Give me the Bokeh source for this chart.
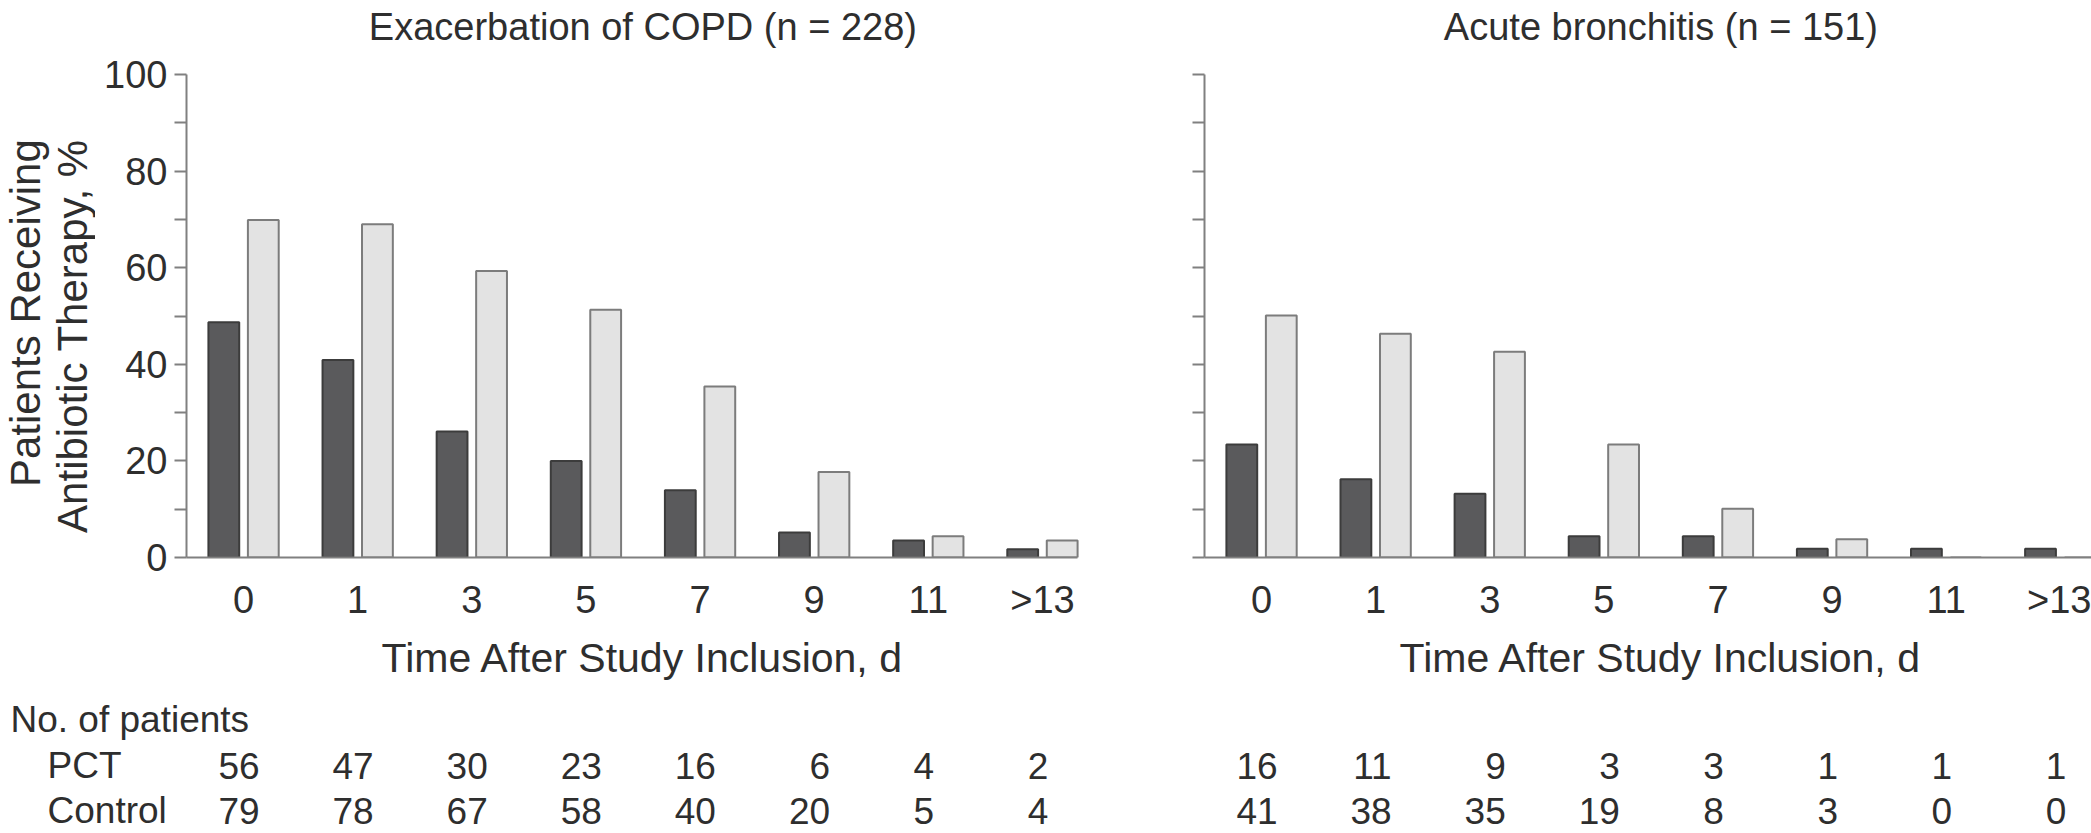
from math import pi
from bokeh.plotting import figure
from bokeh.models import FixedTicker, ColumnDataSource, Range1d
from bokeh.layouts import row, column
from bokeh.transform import dodge
from bokeh.embed import file_html
from bokeh.resources import INLINE
from bokeh.core.properties import value

# ---------------- data ----------------
days = ["0", "1", "3", "5", "7", "9", "11", ">13"]
copd_pct = [48.7, 40.9, 26.1, 20.0, 13.9, 5.2, 3.5, 1.7]
copd_ctrl = [69.9, 69.0, 59.3, 51.3, 35.4, 17.7, 4.4, 3.5]
bronch_pct = [23.4, 16.2, 13.2, 4.4, 4.4, 1.8, 1.8, 1.8]
bronch_ctrl = [50.1, 46.3, 42.6, 23.4, 10.1, 3.8, 0.0, 0.0]
copd_n_pct = [56, 47, 30, 23, 16, 6, 4, 2]
copd_n_ctrl = [79, 78, 67, 58, 40, 20, 5, 4]
bronch_n_pct = [16, 11, 9, 3, 3, 1, 1, 1]
bronch_n_ctrl = [41, 38, 35, 19, 8, 3, 0, 0]
titles = ["Exacerbation of COPD (n = 228)", "Acute bronchitis (n = 151)"]
x_title = "Time After Study Inclusion, d"
y_title = ["Patients Receiving", "Antibiotic Therapy, %"]
table_head = "No. of patients"
row_names = ["PCT", "Control"]

# ---------------- style / layout constants ----------------
FONT = "Liberation Sans"
TXT = "#2e2e2e"
AX = "#808080"
DARK, DARK_LINE = "#5a5a5c", "#3c3c3c"
LIGHT, LIGHT_LINE = "#e3e3e3", "#7c7c7c"

PX = 114.1                   # pixels per category
W_L, W_R = 1107, 984         # column widths (left / right panel)
YLAB_W = 95
H_TOP, H_MID, H_BOT = 50, 575, 205
FRAME_L = [186, 1204]        # frame left edge (page px)
MID_TOP = H_TOP
FRAME_TOP, FRAME_BOT = 74, 557
BOT0 = H_TOP + H_MID + H_BOT  # page y of the bottom strip's lower edge


def strip(width, height, x0):
    """A frameless figure whose x range is in category units."""
    start = -(x0 / PX) - 0.5
    f = figure(width=width, height=height, x_range=Range1d(start, start + width / PX),
               y_range=Range1d(0, height), x_axis_type=None, y_axis_type=None,
               output_backend="svg", toolbar_location=None,
               min_border_left=0, min_border_right=0, min_border_top=0, min_border_bottom=0)
    f.outline_line_color = None
    f.background_fill_color = "white"
    f.border_fill_color = "white"
    return f


def chart(width, bl, br, xend, pct, ctrl, labels):
    p = figure(width=width, height=H_MID, x_range=Range1d(-0.5, xend), y_range=Range1d(0, 100),
               output_backend="svg", toolbar_location=None,
               min_border_left=bl, min_border_right=br,
               min_border_top=FRAME_TOP - MID_TOP, min_border_bottom=MID_TOP + H_MID - FRAME_BOT)
    p.outline_line_color = None
    p.grid.visible = False
    p.background_fill_color = "white"
    p.border_fill_color = "white"

    src = ColumnDataSource(dict(x=list(range(len(days))), pct=pct, ctrl=ctrl))
    p.vbar(x=dodge("x", -0.173, range=p.x_range), top="pct", bottom=0, width=0.27, source=src,
           fill_color=DARK, line_color=DARK_LINE, line_width=2)
    p.vbar(x=dodge("x", 0.173, range=p.x_range), top="ctrl", bottom=0, width=0.27, source=src,
           fill_color=LIGHT, line_color=LIGHT_LINE, line_width=2)

    xa = p.xaxis[0]
    xa.ticker = FixedTicker(ticks=list(range(len(days))), minor_ticks=[])
    xa.major_label_overrides = {i: d for i, d in enumerate(days)}
    xa.major_tick_out = 0
    xa.major_tick_in = 0
    xa.minor_tick_out = 0
    xa.minor_tick_in = 0
    xa.axis_line_color = AX
    xa.axis_line_width = 2
    xa.major_label_text_font = FONT
    xa.major_label_text_font_size = "38px"
    xa.major_label_text_color = TXT
    xa.major_label_standoff = 21
    xa.bounds = (-0.5, 7.31)

    ya = p.yaxis[0]
    if labels:
        ya.ticker = FixedTicker(ticks=[0, 20, 40, 60, 80, 100], minor_ticks=[10, 30, 50, 70, 90])
    else:
        ya.ticker = FixedTicker(ticks=[], minor_ticks=[0, 10, 20, 30, 40, 50, 60, 70, 80, 90, 100])
    ya.major_tick_out = 12
    ya.major_tick_in = 0
    ya.minor_tick_out = 12
    ya.minor_tick_in = 0
    ya.major_tick_line_color = AX
    ya.minor_tick_line_color = AX
    ya.major_tick_line_width = 2
    ya.minor_tick_line_width = 2
    ya.axis_line_color = AX
    ya.axis_line_width = 2
    ya.major_label_text_font = FONT
    ya.major_label_text_font_size = "38px"
    ya.major_label_text_color = TXT
    ya.major_label_standoff = 7
    return p


def txt(f, x, y, t, size, align="left", angle=0.0, off=None):
    data = dict(x=x, y=y, t=t)
    kw = {}
    if off is not None:
        data["off"] = off
        kw["x_offset"] = "off"
    f.text(x="x", y="y", text="t", source=ColumnDataSource(data), text_align=align,
           text_baseline="alphabetic", angle=angle, text_font=value(FONT),
           text_font_size=value(size), text_color=TXT, **kw)


# ---- title strips ----
top_l = strip(W_L, H_TOP, FRAME_L[0])
top_r = strip(W_R, H_TOP, FRAME_L[1] - W_L)
for f, t in [(top_l, titles[0]), (top_r, titles[1])]:
    txt(f, [3.5], [H_TOP - 26], [t], "38px", align="center")

# ---- y title strip ----
ylab = figure(width=YLAB_W, height=H_MID, x_range=Range1d(0, YLAB_W), y_range=Range1d(0, H_MID),
              x_axis_type=None, y_axis_type=None, output_backend="svg", toolbar_location=None,
              min_border_left=0, min_border_right=0, min_border_top=0, min_border_bottom=0)
ylab.outline_line_color = None
txt(ylab, [24.5, 71.5], [MID_TOP + H_MID - 127] * 2, y_title, "42px", align="right", angle=pi / 2)

# ---- charts ----
p1 = chart(W_L - YLAB_W, FRAME_L[0] - YLAB_W, 8, 7.5, copd_pct, copd_ctrl, True)
p2 = chart(W_R, FRAME_L[1] - W_L, 0, -0.5 + (W_R - (FRAME_L[1] - W_L)) / PX,
           bronch_pct, bronch_ctrl, False)

# ---- x titles and patient-count tables ----
bot_l = strip(W_L, H_BOT, FRAME_L[0])
bot_r = strip(W_R, H_BOT, FRAME_L[1] - W_L)
for f, n_pct, n_ctrl in [(bot_l, copd_n_pct, copd_n_ctrl), (bot_r, bronch_n_pct, bronch_n_ctrl)]:
    txt(f, [3.5], [BOT0 - 657], [x_title], "41px", align="center")
    maxd = [max(len(str(a)), len(str(b))) for a, b in zip(n_pct, n_ctrl)]
    offs = [10 * m - 4 for m in maxd]
    xs = list(range(len(days)))
    txt(f, xs, [BOT0 - 765] * len(xs), [str(v) for v in n_pct], "37px", align="right", off=offs)
    txt(f, xs, [BOT0 - 810] * len(xs), [str(v) for v in n_ctrl], "37px", align="right", off=offs)

x_head = (10 - FRAME_L[0]) / PX - 0.5
x_rows = (47 - FRAME_L[0]) / PX - 0.5
txt(bot_l, [x_head], [BOT0 - 719], [table_head], "37px")
txt(bot_l, [x_rows, x_rows], [BOT0 - 765, BOT0 - 810], row_names, "37px")

layout = column(row(top_l, top_r), row(ylab, p1, p2), row(bot_l, bot_r))
open("out.html", "w").write(file_html(layout, INLINE))
